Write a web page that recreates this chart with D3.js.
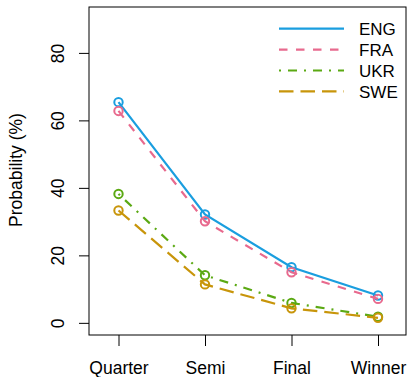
<!DOCTYPE html>
<html>
<head>
<meta charset="utf-8">
<script src="https://cdn.jsdelivr.net/npm/d3@7"></script>
<style>
  body { margin: 0; background: #fff; }
  svg { display: block; font-family: "Liberation Sans", Arial, sans-serif; }
</style>
</head>
<body>
<svg id="chart" width="408" height="377"></svg>
<script>
// Tournament stages and each team's probability (%) of reaching them
const stages = ["Quarter", "Semi", "Final", "Winner"];
const teams = ["ENG", "FRA", "UKR", "SWE"];
const ENG = [65.4, 32.1, 16.5, 8.1];
const FRA = [62.8, 30.1, 15.0, 7.1];
const UKR = [38.2, 14.1, 5.9, 1.8];
const SWE = [33.3, 11.4, 4.3, 1.5];
const yTicks = [0, 20, 40, 60, 80];

const seriesValues = [ENG, FRA, UKR, SWE];
const colors = ["#1A9EDF", "#E86A8E", "#5BA913", "#C8950A"];
const dashes = [null, "8.5,8.5", "2,7,9,7", "14.5,7"];

const svg = d3.select("#chart");
const box = { left: 89, right: 406, top: 7, bottom: 335 };

const x = d3.scalePoint().domain(stages).range([118.5, 378]);
const y = d3.scaleLinear().domain([-3.6, 93.6]).range([box.bottom, box.top]);

// frame
svg.append("rect")
  .attr("x", box.left).attr("y", box.top)
  .attr("width", box.right - box.left).attr("height", box.bottom - box.top)
  .attr("fill", "none").attr("stroke", "#000").attr("stroke-width", 1);

// y axis: ticks outward, labels rotated parallel to the axis
const yAxis = svg.append("g").attr("transform", `translate(${box.left},0)`)
  .call(d3.axisLeft(y).tickValues(yTicks).tickSize(10));
yAxis.select(".domain").remove();
yAxis.selectAll(".tick line").attr("stroke", "#000");
yAxis.selectAll(".tick text")
  .attr("font-size", 17.5).attr("fill", "#000")
  .attr("x", null).attr("dy", null)
  .attr("text-anchor", "middle")
  .attr("transform", "translate(-25.5,0) rotate(-90)");

// x axis
const xAxis = svg.append("g").attr("transform", `translate(0,${box.bottom})`)
  .call(d3.axisBottom(x).tickSize(11));
xAxis.select(".domain").remove();
xAxis.selectAll(".tick line").attr("stroke", "#000");
xAxis.selectAll(".tick text")
  .attr("font-size", 17.5).attr("fill", "#000")
  .attr("y", 39).attr("dy", null);

// y title
svg.append("text")
  .attr("transform", "translate(22,170) rotate(-90)")
  .attr("text-anchor", "middle")
  .attr("font-size", 17.5)
  .text("Probability (%)");

// series lines and open circles
const line = d3.line().x((d, i) => x(stages[i])).y(d => y(d));
seriesValues.forEach((vals, k) => {
  svg.append("path")
    .attr("d", line(vals))
    .attr("fill", "none")
    .attr("stroke", colors[k])
    .attr("stroke-width", 2.2)
    .attr("stroke-dasharray", dashes[k]);
  svg.append("g").selectAll("circle").data(vals).join("circle")
    .attr("cx", (d, i) => x(stages[i]))
    .attr("cy", d => y(d))
    .attr("r", 4.2)
    .attr("fill", "none")
    .attr("stroke", colors[k])
    .attr("stroke-width", 2);
});

// legend
const legend = svg.append("g");
teams.forEach((name, k) => {
  const ly = 28.7 + k * 20.9;
  legend.append("line")
    .attr("x1", 279).attr("x2", 344).attr("y1", ly).attr("y2", ly)
    .attr("stroke", colors[k]).attr("stroke-width", 2.2)
    .attr("stroke-dasharray", dashes[k]);
  legend.append("text")
    .attr("x", 359).attr("y", ly).attr("dy", "0.36em")
    .attr("font-size", 17)
    .text(name);
});
</script>
</body>
</html>
